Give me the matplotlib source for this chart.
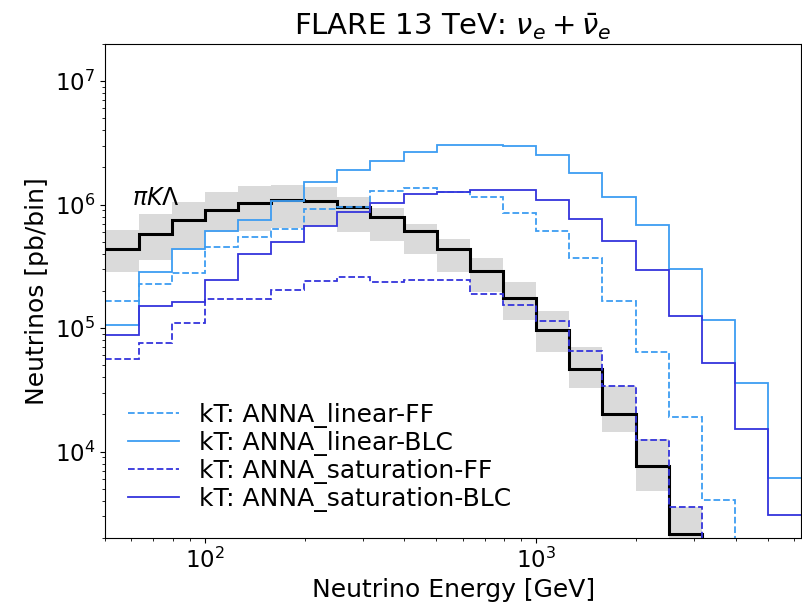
import numpy as np
import matplotlib
matplotlib.use("Agg")
import matplotlib.pyplot as plt

# bin edges: 0.1 decade wide, from 10^1.7 to 10^3.8 GeV
edges = 10 ** np.linspace(1.7, 3.8, 22)

# pi K Lambda (central + band)
piKL = [4.38e5, 5.8e5, 7.5e5, 9.06e5, 1.03e6, 1.08e6, 1.06e6, 9.5e5, 7.9e5, 6.08e5,
        4.38e5, 2.87e5, 1.74e5, 9.7e4, 4.64e4, 2.02e4, 7.6e3, 2.15e3, 0, 0, 0]
piKL_up = [6.24e5, 8.4e5, 1.04e6, 1.26e6, 1.40e6, 1.45e6, 1.38e6, 1.15e6, 9.46e5, 7.0e5,
           5.27e5, 3.67e5, 2.35e5, 1.38e5, 7.08e4, 3.42e4, 1.27e4, 3.59e3, 0, 0, 0]
piKL_lo = [2.83e5, 3.57e5, 4.3e5, 5.97e5, 6.15e5, 6.4e5, 6.76e5, 5.97e5, 5.05e5, 4.0e5,
           2.83e5, 1.95e5, 1.16e5, 6.37e4, 3.28e4, 1.45e4, 4.78e3, 1.2e3, 0, 0, 0]

# kT ANNA curves
lin_ff = [1.67e5, 2.28e5, 2.78e5, 4.57e5, 5.44e5, 6.35e5, 9.23e5, 9.6e5, 1.28e6, 1.36e6,
          1.26e6, 1.15e6, 8.5e5, 6.08e5, 3.7e5, 1.67e5, 6.37e4, 1.9e4, 4.07e3, 0, 0]
lin_blc = [1.05e5, 2.83e5, 4.33e5, 6.08e5, 7.5e5, 1.06e6, 1.52e6, 1.91e6, 2.24e6, 2.64e6,
           3.06e6, 3.04e6, 3.0e6, 2.54e6, 1.81e6, 1.15e6, 6.77e5, 3.01e5, 1.16e5, 3.6e4, 6.1e3]
sat_ff = [5.63e4, 7.54e4, 1.09e5, 1.72e5, 1.72e5, 2.04e5, 2.39e5, 2.58e5, 2.35e5, 2.43e5,
          2.43e5, 1.89e5, 1.55e5, 1.13e5, 6.49e4, 3.4e4, 1.25e4, 3.54e3, 0, 0, 0]
sat_blc = [8.85e4, 1.50e5, 1.64e5, 2.43e5, 3.99e5, 4.95e5, 6.76e5, 8.78e5, 1.03e6, 1.22e6,
           1.27e6, 1.31e6, 1.31e6, 1.08e6, 7.7e5, 5.1e5, 2.93e5, 1.26e5, 5.2e4, 1.51e4, 3.07e3]

light = '#3d9df2'
dark = '#3434dc'

fig = plt.figure(figsize=(8.02, 6.13), dpi=100)
ax = fig.add_axes([0.131, 0.1225, 0.868, 0.806])
ax.set_xscale('log')
ax.set_yscale('log')

# band + central line
ax.stairs(piKL_up, edges, baseline=piKL_lo, fill=True, color='#dadada', lw=0)
ax.stairs(piKL, edges, baseline=None, color='black', lw=2.2)

ax.stairs(lin_ff, edges, baseline=None, color=light, ls='--', lw=1.3, label='kT: ANNA_linear-FF')
ax.stairs(lin_blc, edges, baseline=None, color=light, ls='-', lw=1.3, label='kT: ANNA_linear-BLC')
ax.stairs(sat_ff, edges, baseline=None, color=dark, ls='--', lw=1.3, label='kT: ANNA_saturation-FF')
ax.stairs(sat_blc, edges, baseline=None, color=dark, ls='-', lw=1.3, label='kT: ANNA_saturation-BLC')

ax.text(60.3, 1.14e6, r'$\pi K\Lambda$', fontsize=17, va='center', ha='left')

ax.set_xlim(50, 10 ** 3.8)
ax.set_ylim(2e3, 2e7)
ax.set_title(r'FLARE 13 TeV: $\nu_e+\bar{\nu}_e$', fontsize=21)
ax.set_xlabel('Neutrino Energy [GeV]', fontsize=18)
ax.set_ylabel('Neutrinos [pb/bin]', fontsize=18)
ax.tick_params(labelsize=16.5)

leg = ax.legend(loc='upper left', bbox_to_anchor=(0.0, 0.319), frameon=False,
                fontsize=18, handlelength=2.05, handletextpad=0.8, labelspacing=0.12)

fig.savefig('out.png', dpi=100)
